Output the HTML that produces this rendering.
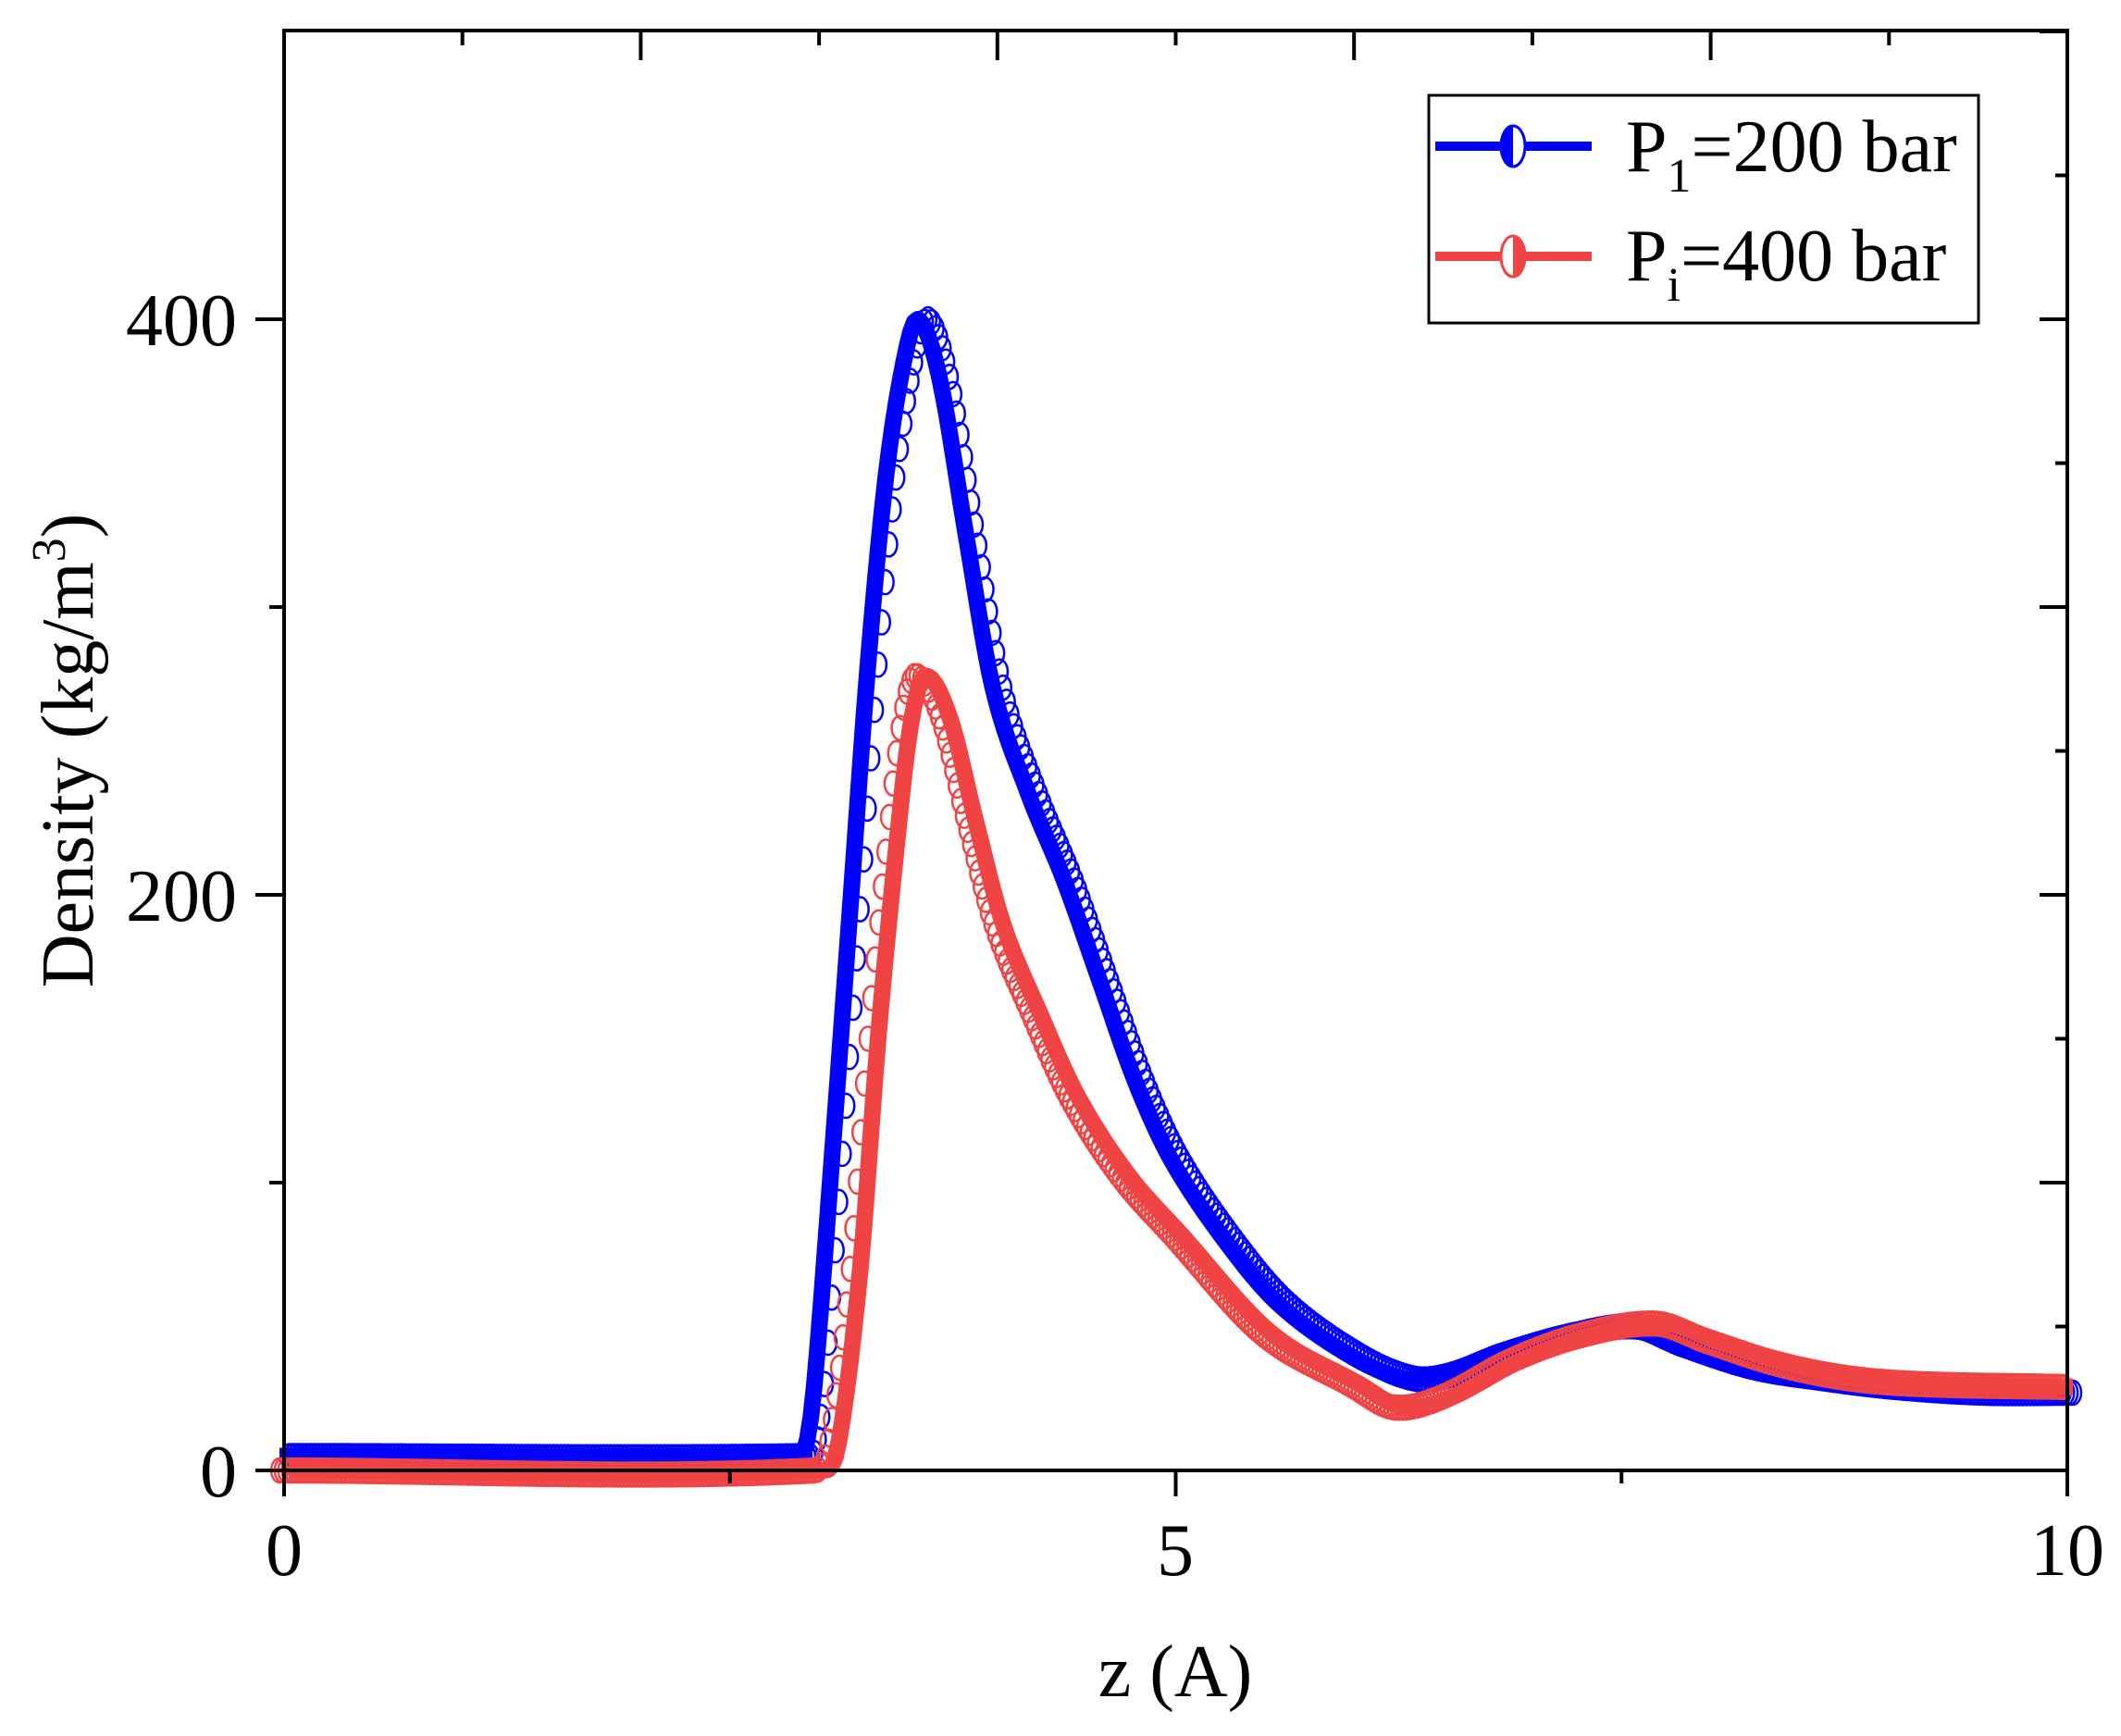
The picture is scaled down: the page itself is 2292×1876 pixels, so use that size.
<!DOCTYPE html>
<html><head><meta charset="utf-8"><style>html,body{margin:0;padding:0;background:#fff}svg{display:block}</style></head>
<body>
<svg id="s" xmlns="http://www.w3.org/2000/svg" width="2292" height="1876" viewBox="0 0 2292 1876">
<rect width="2292" height="1876" fill="#fff"/>
<g id="data"></g>
<g stroke="#000" stroke-width="4" fill="none">
<rect x="307" y="33" width="1927" height="1556"/>
</g>
<g id="ticks" stroke="#000" stroke-width="4"></g>
<g font-family="'Liberation Serif',serif" font-size="80" fill="#000">
<text x="256" y="373" text-anchor="end">400</text>
<text x="256" y="995" text-anchor="end">200</text>
<text x="256" y="1617" text-anchor="end">0</text>
<text x="307" y="1702" text-anchor="middle">0</text>
<text x="1270" y="1702" text-anchor="middle">5</text>
<text x="2234" y="1702" text-anchor="middle">10</text>
<text x="1270" y="1833" text-anchor="middle">z (A)</text>
<text transform="translate(100,811) rotate(-90)" text-anchor="middle">Density (kg/m<tspan dy="-30" font-size="52">3</tspan><tspan dy="30">)</tspan></text>
</g>
<rect x="1544" y="103" width="594" height="246" fill="#fff" stroke="#000" stroke-width="3"/>
<g id="leg"></g>
<g font-family="'Liberation Serif',serif" font-size="80" fill="#000">
<text x="1757" y="185">P<tspan font-size="52" dy="22">1</tspan><tspan dy="-22">=200 bar</tspan></text>
<text x="1757" y="303">P<tspan font-size="52" dy="22">i</tspan><tspan dy="-22">=400 bar</tspan></text>
</g>
</svg>
<script>
var NS="http://www.w3.org/2000/svg";
function X(z){return 307+192.7*z}
function Y(v){return 1589-3.11*v}
function el(p,n,a){var e=document.createElementNS(NS,n);for(var k in a)e.setAttribute(k,a[k]);p.appendChild(e);return e}
var blue=[[0,5],[2.9,5],[2.95,8],[3.0,30],[3.1,110],[3.2,195],[3.3,280],[3.4,345],[3.5,385],[3.58,400],[3.7,380],[3.85,325],[4.0,272],[4.2,235],[4.4,205],[4.6,170],[4.8,135],[5.0,108],[5.3,80],[5.6,58],[6.0,40],[6.3,32],[6.5,33],[6.8,40],[7.2,47],[7.55,50],[7.8,44],[8.2,36],[8.6,32],[9.0,29],[9.5,27],[10,27]];
var red=[[0,0],[3.0,0],[3.08,10],[3.2,70],[3.3,150],[3.4,215],[3.48,258],[3.56,276],[3.7,262],[3.85,225],[4.0,190],[4.2,160],[4.42,130],[4.7,103],[5.0,82],[5.5,48],[6.0,30],[6.24,22],[6.5,25],[6.9,38],[7.3,47],[7.72,51],[8.0,45],[8.4,37],[8.8,32],[9.2,30],[10,29]];
function interp(P,z){for(var i=0;i<P.length-1;i++){if(z<=P[i+1][0]){var p0=P[Math.max(i-1,0)],p1=P[i],p2=P[i+1],p3=P[Math.min(i+2,P.length-1)];var t=(z-p1[0])/(p2[0]-p1[0]);var m1=(p2[1]-p0[1])/(p2[0]-p0[0])*(p2[0]-p1[0]);var m2=(p3[1]-p1[1])/(p3[0]-p1[0])*(p2[0]-p1[0]);var t2=t*t,t3=t2*t;return (2*t3-3*t2+1)*p1[1]+(t3-2*t2+t)*m1+(-2*t3+3*t2)*p2[1]+(t3-t2)*m2;}}return P[P.length-1][1]}
var g=document.getElementById('data');
function series(P,col,fo,oo){var pts=[];for(var z=0;z<=10.0001;z+=0.02){pts.push([X(z),Y(interp(P,z))])}
el(g,'polyline',{points:pts.map(function(p){return (p[0]+fo)+','+p[1]}).join(' '),fill:'none',stroke:col,'stroke-width':18,'stroke-linejoin':'round'});
for(var i=0;i<pts.length;i++){el(g,'ellipse',{cx:pts[i][0]+oo,cy:pts[i][1],rx:9,ry:13,fill:'none',stroke:col,'stroke-width':2.5})}}
series(blue,'#0000ff',-5,6);
series(red,'#f04444',6,-5);
var t=document.getElementById('ticks');
function ln(a,b,c,d){el(t,'line',{x1:a,y1:b,x2:c,y2:d})}
for(var v=0;v<=500;v+=50){var y=Y(v);var maj=(v%100==0);ln(2234,y,2234-(maj?30:13),y);if(v%100==0&&v<500){ln(307,y,307-(v%200==0?31:16),y)}}
for(var z=1;z<10;z++){ln(X(z),33,X(z),33+(z%2==0?32:16))}
ln(X(2.5),1589,X(2.5),1603);ln(X(5),1589,X(5),1617);ln(X(7.5),1589,X(7.5),1603);ln(X(0),1589,X(0),1617);ln(X(10),1589,X(10),1617);
var L=document.getElementById('leg');
el(L,'line',{x1:1551,y1:158,x2:1720,y2:158,stroke:'#0000ff','stroke-width':10});
el(L,'ellipse',{cx:1635,cy:158,rx:13,ry:22,fill:'#fff',stroke:'#0000ff','stroke-width':3});
el(L,'path',{d:'M1635 136 A13 22 0 0 0 1635 180 Z',fill:'#0000ff'});
el(L,'line',{x1:1551,y1:277,x2:1720,y2:277,stroke:'#f04444','stroke-width':10});
el(L,'ellipse',{cx:1635,cy:277,rx:13,ry:22,fill:'#fff',stroke:'#f04444','stroke-width':3});
el(L,'path',{d:'M1635 255 A13 22 0 0 1 1635 299 Z',fill:'#f04444'});
</script>
</body></html>
